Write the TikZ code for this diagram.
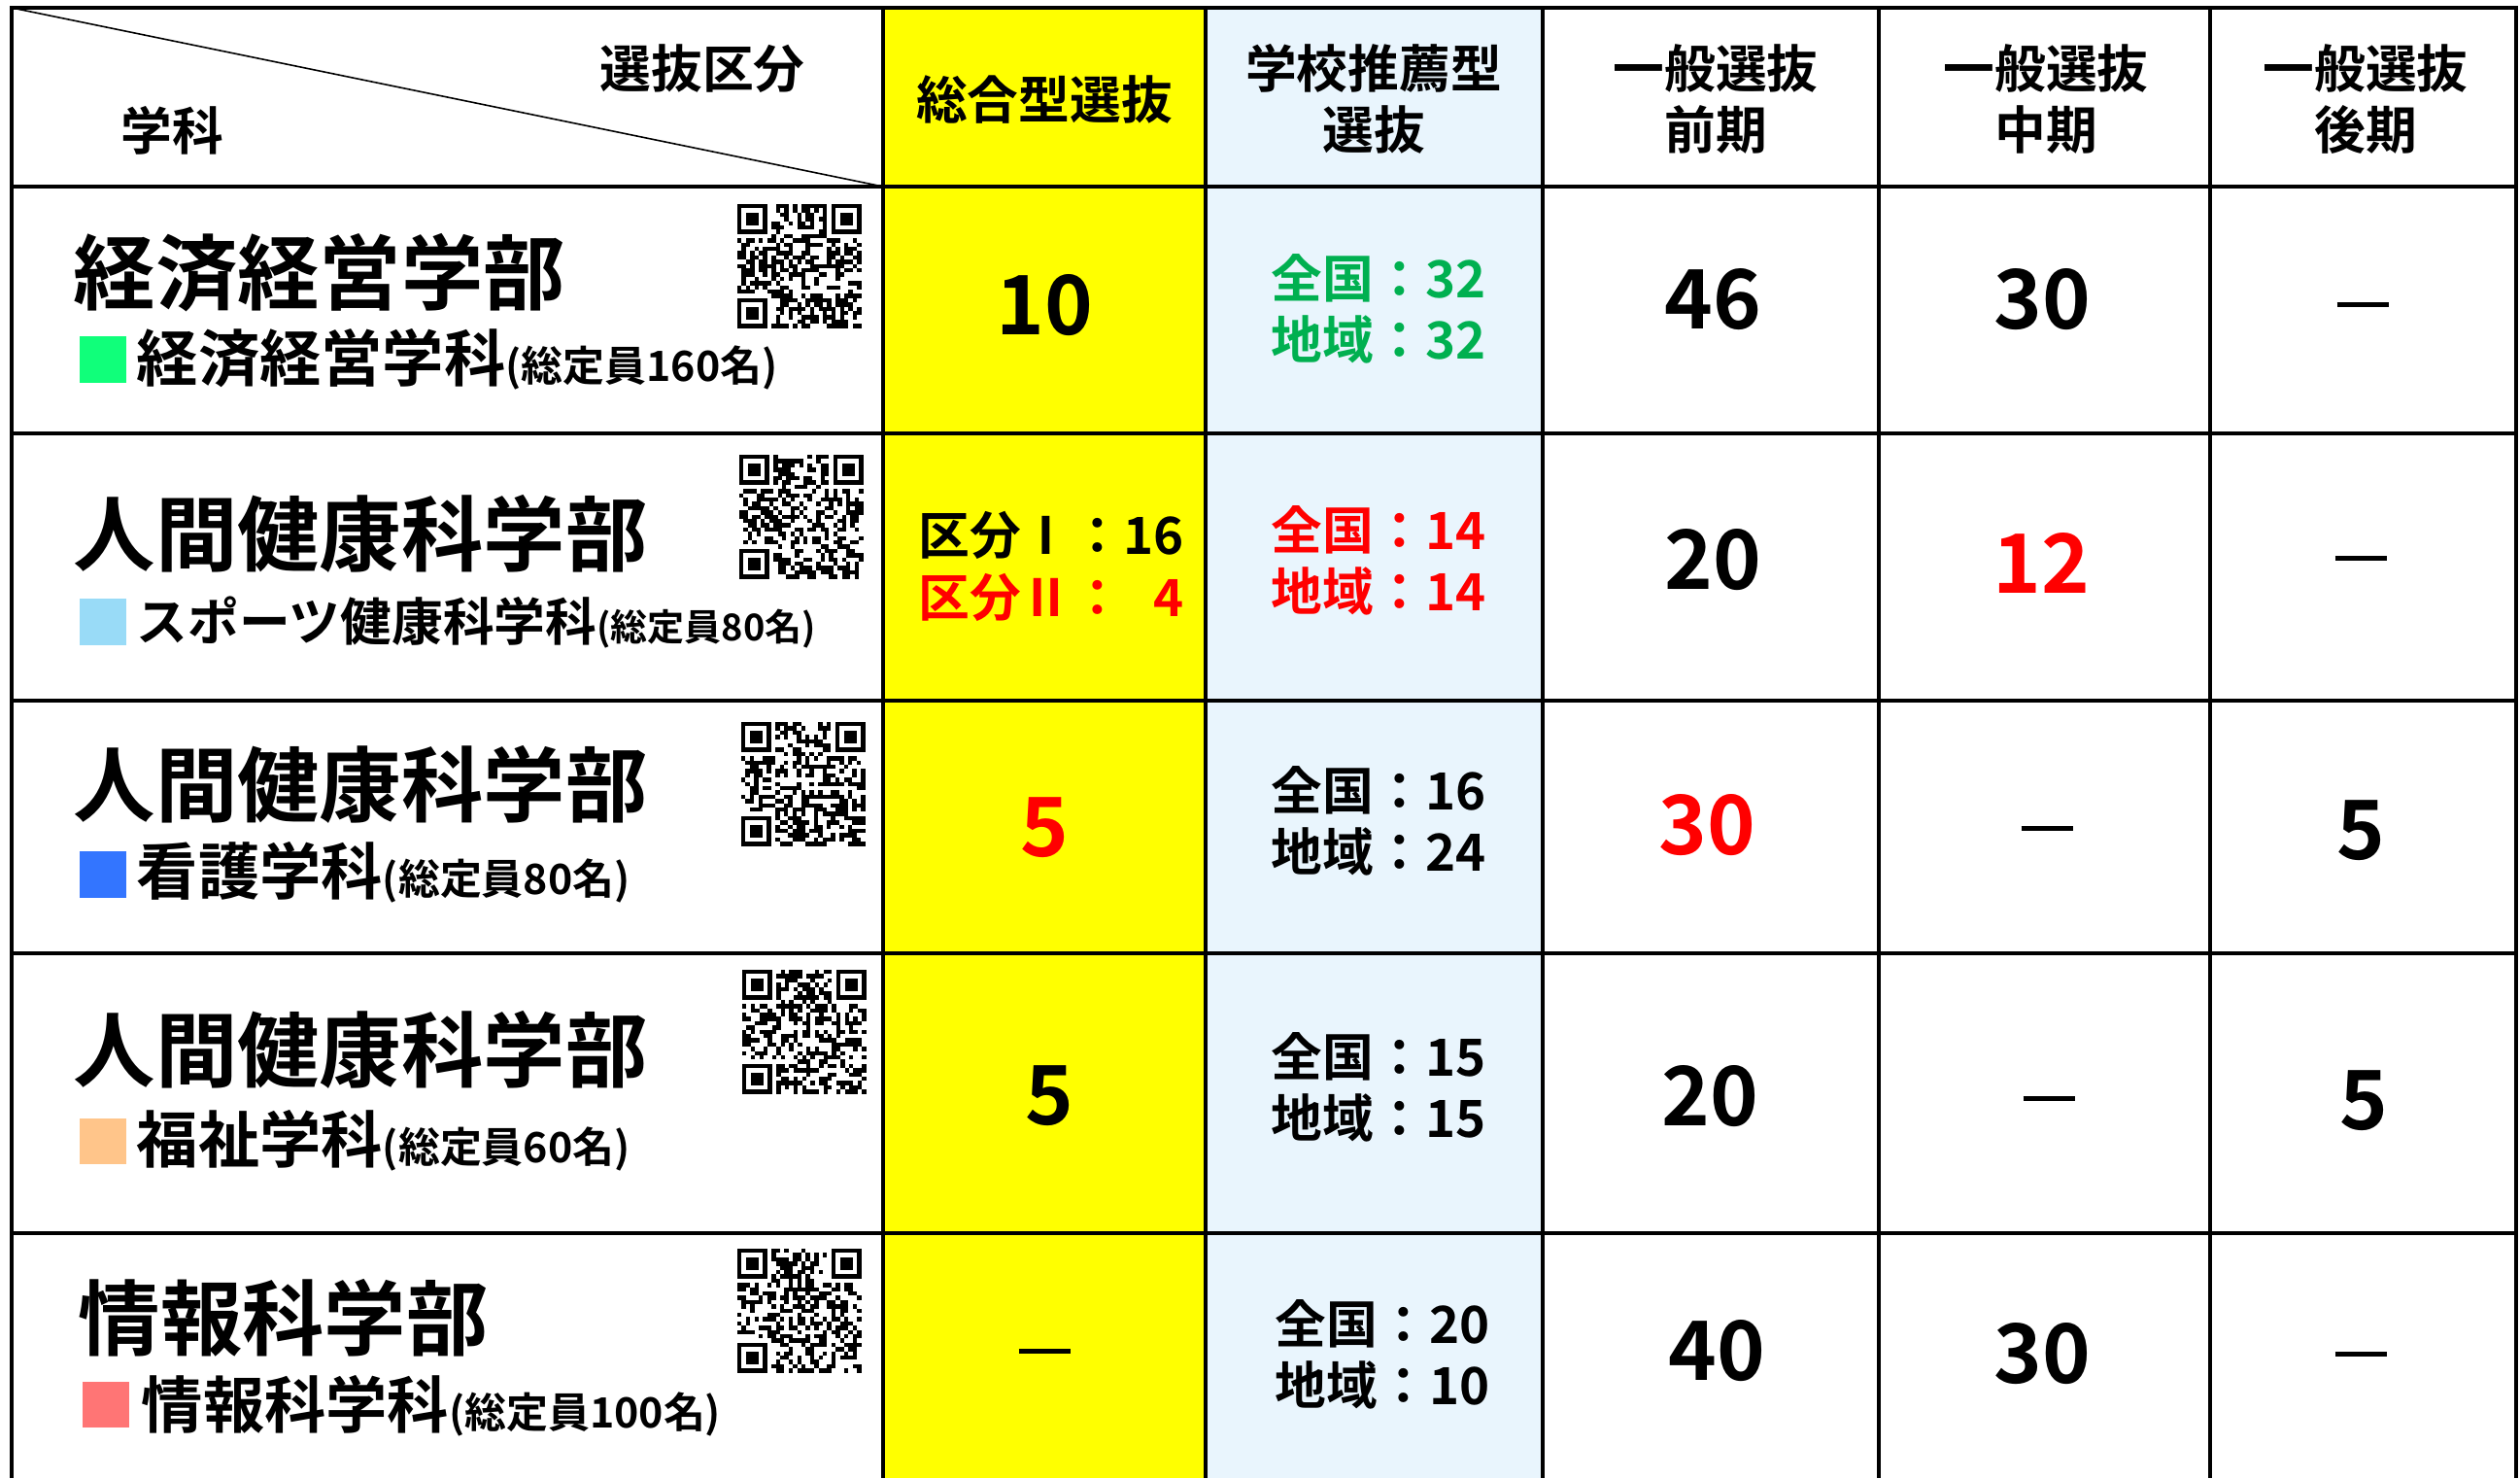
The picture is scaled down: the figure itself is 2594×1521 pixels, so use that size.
\documentclass[tikz,border=0pt]{standalone}
\usepackage{fontspec}
\setmainfont{Noto Sans CJK JP Bold}

\definecolor{hlyellow}{HTML}{FFFF00}
\definecolor{hlblue}{HTML}{E9F5FD}
\definecolor{okgreen}{HTML}{00B050}
\definecolor{sqgreen}{HTML}{10FF7A}
\definecolor{sqsky}{HTML}{99DBF7}
\definecolor{sqblue}{HTML}{3375FF}
\definecolor{sqpeach}{HTML}{FFC58A}
\definecolor{sqpink}{HTML}{FF7575}

% QR-like block: x, y (top left), seed
\newcommand{\qrmark}[3]{%
  \pgfmathsetseed{#3}
  \foreach \i in {0,...,28}{
    \foreach \j in {0,...,28}{
      \pgfmathtruncatemacro{\fz}{((\i<8)&&(\j<8))||((\i>20)&&(\j<8))||((\i<8)&&(\j>20))}
      \pgfmathtruncatemacro{\on}{(rnd<0.5)&&(\fz==0)}
      \ifnum\on=1 \fill (#1+\i*4.4,#2+\j*4.4) rectangle ++(4.4,4.4);\fi
    }}
  \foreach \u/\v in {0/0,22/0,0/22}{
    \fill (#1+\u*4.4,#2+\v*4.4) rectangle ++(30.8,30.8);
    \fill[white] (#1+\u*4.4+4.4,#2+\v*4.4+4.4) rectangle ++(22,22);
    \fill (#1+\u*4.4+8.8,#2+\v*4.4+8.8) rectangle ++(13.2,13.2);
  }}

\tikzset{
  hd/.style={inner sep=0, align=center, font=\fontsize{15}{18}\selectfont},
  fac/.style={anchor=west, inner sep=0, font=\fontsize{24}{28}\selectfont},
  dept/.style={anchor=west, inner sep=0, font=\fontsize{18}{20}\selectfont},
  sqr/.style={minimum size=0.47cm, inner sep=0, fill=#1},
  cnt/.style={inner sep=0, align=left, font=\fontsize{15}{18}\selectfont},
  big/.style={inner sep=0, font=\fontsize{24}{28}\selectfont},
  nil/.style={inner sep=0},
  grid/.style={line width=0.04cm},
}
\newcommand{\capa}[2][12.2]{{\fontsize{#1}{14}\selectfont(総定員#2名)}}
\newcommand{\nada}{\rule{0.53cm}{0.05cm}}

\begin{document}
\begin{tikzpicture}[x=0.01cm,y=-0.01cm]
	\useasboundingbox (0,0) rectangle (2594,1521);
	\fill[white] (0,0) rectangle (2594,1521);
	% coloured columns
	\fill[hlyellow] (909,8) rectangle (1241,1521);
	\fill[hlblue] (1241,8) rectangle (1588,1521);
	% grid
	\draw[grid] (12,1521) -- (12,8) -- (2590,8) -- (2590,1521);
	\foreach \y in {192,446,721,981,1269}
		\draw[grid] (12,\y) -- (2590,\y);
	\foreach \x in {909,1241,1588,1934,2275}
		\draw[grid] (\x,8) -- (\x,1521);
	\draw[line width=0.45pt] (12,8) -- (909,192);

	% header
	\node[hd] (hsel) at (723,71) {選抜区分};
	\node[hd] (hdep) at (177,134) {学科};
	\node[hd] (h1) at (1075,102) {総合型選抜};
	\node[hd] (h2) at (1414,102) {学校推薦型\\選抜};
	\node[hd] (h3) at (1766,102) {一般選抜\\前期};
	\node[hd] (h4) at (2106,102) {一般選抜\\中期};
	\node[hd] (h5) at (2435,102) {一般選抜\\後期};

	% row 1
	\node[fac] (f1) at (75,281) {経済経営学部};
	\node[sqr=sqgreen] (s1) at (106,370) {};
	\node[dept] (d1) at (140,370) {経済経営学科\capa{160}};
	\qrmark{759}{210}{11}
	\node[big] (r1a) at (1075,314) {10};
	\node[cnt,text=okgreen] (r1b) at (1419,318) {全国：32\\地域：32};
	\node[big] (r1c) at (1763,308) {46};
	\node[big] (r1d) at (2102,308) {30};
	\node[nil] (r1e) at (2432,313) {\nada};

	% row 2
	\node[fac] (f2) at (75,549) {人間健康科学部};
	\node[sqr=sqsky] (s2) at (106,640) {};
	\node[dept,font=\fontsize{15}{18}\selectfont] (d2) at (140,640) {スポーツ健康科学科\capa[10.8]{80}};
	\qrmark{761}{468}{23}
	\node[cnt] (r2a) at (1082,583) {区分Ⅰ：16\\{\color{red}区分Ⅱ：\hphantom{1}4}};
	\node[cnt,text=red] (r2b) at (1419,577) {全国：14\\地域：14};
	\node[big] (r2c) at (1763,576) {20};
	\node[big,text=red] (r2d) at (2101,579) {12};
	\node[nil] (r2e) at (2430,574) {\nada};

	% row 3
	\node[fac] (f3) at (75,807) {人間健康科学部};
	\node[sqr=sqblue] (s3) at (106,900) {};
	\node[dept] (d3) at (140,898) {看護学科\capa{80}};
	\qrmark{763}{743}{37}
	\node[big,text=red] (r3a) at (1075,852) {5};
	\node[cnt] (r3b) at (1419,845) {全国：16\\地域：24};
	\node[big,text=red] (r3c) at (1757,849) {30};
	\node[nil] (r3d) at (2107,852) {\nada};
	\node[big] (r3e) at (2430,855) {5};

	% row 4
	\node[fac] (f4) at (75,1080) {人間健康科学部};
	\node[sqr=sqpeach] (s4) at (106,1174) {};
	\node[dept] (d4) at (140,1174) {福祉学科\capa{60}};
	\qrmark{764}{998}{41}
	\node[big] (r4a) at (1080,1128) {5};
	\node[cnt] (r4b) at (1419,1119) {全国：15\\地域：15};
	\node[big] (r4c) at (1760,1128) {20};
	\node[nil] (r4d) at (2109,1130) {\nada};
	\node[big] (r4e) at (2433,1133) {5};

	% row 5
	\node[fac] (f5) at (80,1356) {情報科学部};
	\node[sqr=sqpink] (s5) at (109,1445) {};
	\node[dept] (d5) at (145,1447) {情報科学科\capa{100}};
	\qrmark{759}{1285}{53}
	\node[nil] (r5a) at (1075,1390) {\nada};
	\node[cnt] (r5b) at (1423,1394) {全国：20\\地域：10};
	\node[big] (r5c) at (1767,1390) {40};
	\node[big] (r5d) at (2102,1393) {30};
	\node[nil] (r5e) at (2430,1393) {\nada};
\end{tikzpicture}
\end{document}
